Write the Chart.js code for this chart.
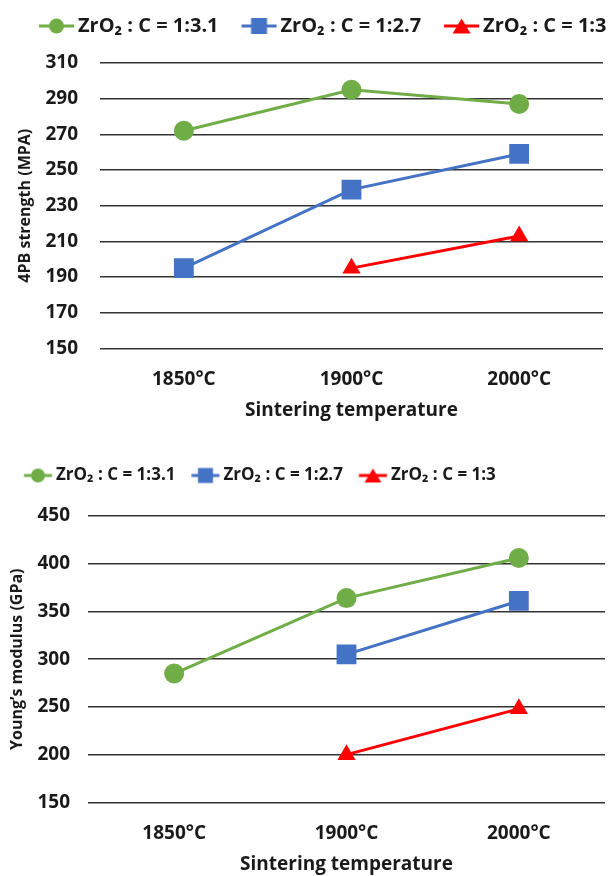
<!DOCTYPE html>
<html>
<head>
<meta charset="utf-8">
<script src="https://cdn.jsdelivr.net/npm/chart.js@4.4.1/dist/chart.umd.min.js"></script>
<style>
  html, body { margin: 0; padding: 0; background: #fff; overflow: hidden; }
  .box { position: absolute; left: 0; width: 608px; }
  #top { top: 0; height: 432px; }
  #bottom { top: 440px; height: 436px; }
</style>
</head>
<body>
<div class="box" id="top"><canvas id="strengthChart"></canvas></div>
<div class="box" id="bottom"><canvas id="modulusChart"></canvas></div>
<script>
// -----Data
var temperatures = ['1850°C', '1900°C', '2000°C']
var seriesNames = ['ZrO₂ : C = 1:3.1', 'ZrO₂ : C = 1:2.7', 'ZrO₂ : C = 1:3']

// 4PB strength (MPA)
var strength31 = [272, 295, 287]
var strength27 = [195, 239, 259]
var strength30 = [null, 195, 213]
var strengthTicks = [150, 170, 190, 210, 230, 250, 270, 290, 310]

// Young's modulus (GPa)
var modulus31 = [285, 364, 406]
var modulus27 = [null, 305, 361]
var modulus30 = [null, 200, 248]
var modulusTicks = [150, 200, 250, 300, 350, 400, 450]

var colors = ['#70ad47', '#4472c4', '#ff0000']
var markers = ['circle', 'rect', 'triangle']
var markerSizes = [10, 14, 10.5]
var fontFamily = '"Open Sans", "DejaVu Sans", sans-serif'
var textColor = '#1a1a1a'

// -----Legend icons (line with marker, like the spreadsheet legend)
// drawn on a wide canvas so the visible part starts `offset` px after the legend box
function legendIcon(color, marker, boxW, offset, len, s) {
  var c = document.createElement('canvas')
  c.width = 140
  c.height = 20
  var g = c.getContext('2d')
  var x0 = offset - boxW / 2 + 70
  var cx = x0 + len / 2
  g.strokeStyle = color
  g.fillStyle = color
  g.lineWidth = 3
  g.beginPath()
  g.moveTo(x0, 10)
  g.lineTo(x0 + len, 10)
  g.stroke()
  g.beginPath()
  if (marker === 'circle') {
    g.arc(cx, 10, s / 2, 0, Math.PI * 2)
  } else if (marker === 'rect') {
    g.rect(cx - s / 2, 10 - s / 2, s, s)
  } else {
    g.moveTo(cx, 10 - s / 2)
    g.lineTo(cx + s * 0.6, 10 + s / 2)
    g.lineTo(cx - s * 0.6, 10 + s / 2)
    g.closePath()
  }
  g.fill()
  return c
}

// -----Extra space under the legend, and keep it on one row
var legendFix = {
  id: 'legendFix',
  beforeInit: function (chart, args, opts) {
    var fit = chart.legend.fit
    chart.legend.fit = function () {
      var mw = this.maxWidth
      this.maxWidth = 2000
      fit.call(this)
      this.maxWidth = mw
      this.width = Math.min(this.width, mw)
      this.height += opts.gap || 0
    }
  },
  beforeDraw: function (chart) {
    chart.legend.right = chart.width + 200
  }
}

function makeDatasets(values) {
  return values.map(function (v, i) {
    return {
      label: seriesNames[i],
      data: v,
      borderColor: colors[i],
      backgroundColor: colors[i],
      borderWidth: 3,
      pointStyle: markers[i],
      pointRadius: markerSizes[i],
      pointHoverRadius: markerSizes[i],
      pointBorderWidth: 0
    }
  })
}

function makeChart(id, values, ticks, yTitle, pad, yWidth, yTickPad, leg) {
  var ctx = document.getElementById(id)
  var icons = colors.map(function (c, i) {
    return legendIcon(c, markers[i], leg.boxW, leg.offset, leg.len, leg.sizes[i])
  })
  return new Chart(ctx, {
    type: 'line',
    data: { labels: temperatures, datasets: makeDatasets(values) },
    plugins: [legendFix],
    options: {
      responsive: true,
      maintainAspectRatio: false,
      animation: false,
      layout: { padding: pad, autoPadding: false },
      plugins: {
        tooltip: { enabled: false },
        legendFix: { gap: leg.gap },
        legend: {
          align: 'start',
          labels: {
            usePointStyle: true,
            pointStyleWidth: leg.boxW,
            padding: leg.padding,
            color: textColor,
            font: { family: fontFamily, size: leg.size, weight: 'bold' },
            generateLabels: function (chart) {
              var items = Chart.defaults.plugins.legend.labels.generateLabels(chart)
              items.forEach(function (it, i) { it.pointStyle = icons[i] })
              return items
            }
          }
        }
      },
      scales: {
        x: {
          offset: true,
          grid: { display: false, drawTicks: false },
          border: { display: false },
          ticks: {
            color: textColor,
            padding: 20,
            font: { family: fontFamily, size: 19, weight: 'bold' }
          },
          title: {
            display: true,
            text: 'Sintering temperature',
            color: textColor,
            padding: { top: -12, bottom: 0 },
            font: { family: fontFamily, size: 19, weight: 'bold' }
          }
        },
        y: {
          min: ticks[0],
          max: ticks[ticks.length - 1],
          afterBuildTicks: function (axis) {
            axis.ticks = ticks.map(function (t) { return { value: t } })
          },
          afterFit: function (axis) {
            axis.width = yWidth
          },
          grid: { color: '#333', lineWidth: 1.5, drawTicks: false },
          border: { display: false },
          ticks: {
            color: textColor,
            padding: yTickPad,
            font: { family: fontFamily, size: 19, weight: 'bold' }
          },
          title: {
            display: true,
            text: yTitle,
            color: textColor,
            padding: { top: 0, bottom: 0 },
            font: { family: fontFamily, size: 16, weight: 'bold' }
          }
        }
      }
    }
  })
}

makeChart('strengthChart', [strength31, strength27, strength30], strengthTicks,
  '4PB strength (MPA)', { left: 16, right: 5, top: -6, bottom: 10 }, 84, 22,
  { size: 20, padding: 22, boxW: 30, offset: 1, len: 35, sizes: [15, 16, 15], gap: 17 })
makeChart('modulusChart', [modulus31, modulus27, modulus30], modulusTicks,
  'Young\u2019s modulus (GPa)', { left: 8, right: 3, top: 17, bottom: 0 }, 80, 18,
  { size: 17, padding: 10, boxW: 29.5, offset: 6, len: 28, sizes: [14, 15, 14], gap: 22 })
</script>
</body>
</html>
